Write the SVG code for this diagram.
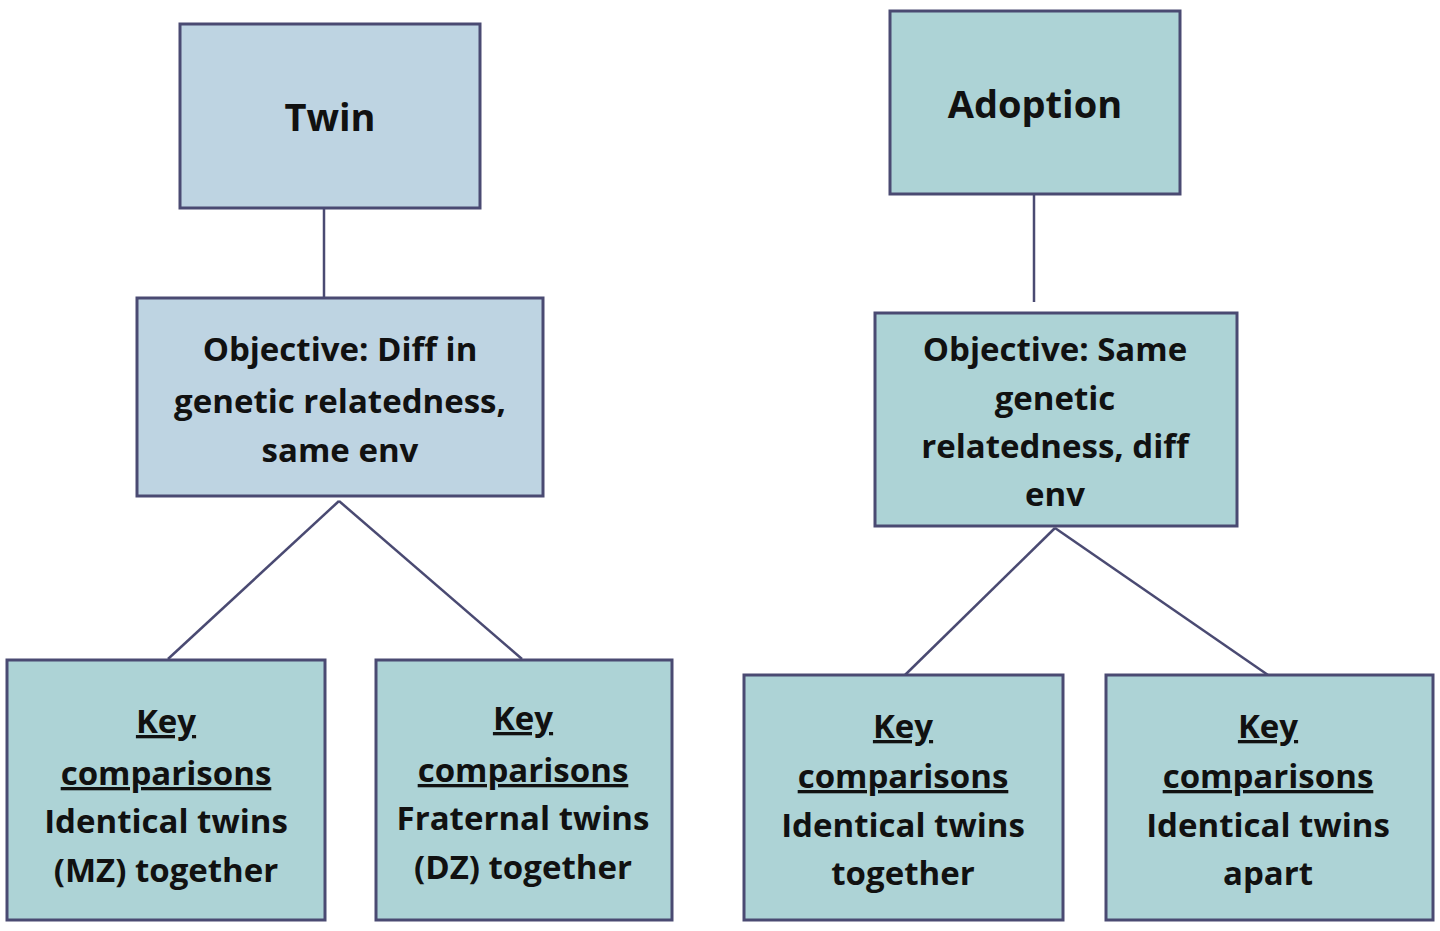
<svg xmlns="http://www.w3.org/2000/svg" width="1440" height="931" viewBox="0 0 1440 931">
<style>
.box{stroke:#4a4a72;stroke-width:3}
.blue{fill:#bed4e2}
.teal{fill:#add3d6}
.t{font-family:"Open Sans","Liberation Sans",sans-serif;font-weight:bold;font-size:33px;fill:#111;text-anchor:middle}
.h{font-size:38px}
.u{text-decoration:underline}
.c{stroke:#4a4a72;stroke-width:2.5;fill:none}
</style>
<rect width="1440" height="931" fill="#fff"/>
<g id="connectors">
<line class="c" x1="324" y1="208" x2="324" y2="298"/>
<line class="c" x1="1034" y1="194" x2="1034" y2="302"/>
<line class="c" x1="339" y1="501" x2="168" y2="659"/>
<line class="c" x1="339" y1="501" x2="522" y2="659"/>
<line class="c" x1="1055" y1="528" x2="905" y2="675"/>
<line class="c" x1="1055" y1="528" x2="1268" y2="675"/>
</g>
<g id="twin">
<rect class="box blue" x="180" y="24" width="300" height="184"/>
<text class="t h" x="330" y="131">Twin</text>
</g>
<g id="adoption">
<rect class="box teal" x="890" y="11" width="290" height="183"/>
<text class="t h" x="1035" y="118">Adoption</text>
</g>
<g id="obj-twin">
<rect class="box blue" x="137" y="298" width="406" height="198"/>
<text class="t" x="340" y="361">Objective: Diff in</text>
<text class="t" x="340" y="413">genetic relatedness,</text>
<text class="t" x="340" y="462">same env</text>
</g>
<g id="obj-adoption">
<rect class="box teal" x="875" y="313" width="362" height="213"/>
<text class="t" x="1055" y="361">Objective: Same</text>
<text class="t" x="1055" y="410">genetic</text>
<text class="t" x="1055" y="458">relatedness, diff</text>
<text class="t" x="1055" y="506">env</text>
</g>
<g id="key-mz">
<rect class="box teal" x="7" y="660" width="318" height="260"/>
<text class="t u" x="166" y="733">Key</text>
<text class="t u" x="166" y="785">comparisons</text>
<text class="t" x="166" y="833">Identical twins</text>
<text class="t" x="166" y="882">(MZ) together</text>
</g>
<g id="key-dz">
<rect class="box teal" x="376" y="660" width="296" height="260"/>
<text class="t u" x="523" y="730">Key</text>
<text class="t u" x="523" y="782">comparisons</text>
<text class="t" x="523" y="830">Fraternal twins</text>
<text class="t" x="523" y="879">(DZ) together</text>
</g>
<g id="key-together">
<rect class="box teal" x="744" y="675" width="319" height="245"/>
<text class="t u" x="903" y="738">Key</text>
<text class="t u" x="903" y="788">comparisons</text>
<text class="t" x="903" y="837">Identical twins</text>
<text class="t" x="903" y="885">together</text>
</g>
<g id="key-apart">
<rect class="box teal" x="1106" y="675" width="327" height="245"/>
<text class="t u" x="1268" y="738">Key</text>
<text class="t u" x="1268" y="788">comparisons</text>
<text class="t" x="1268" y="837">Identical twins</text>
<text class="t" x="1268" y="885">apart</text>
</g>
</svg>
